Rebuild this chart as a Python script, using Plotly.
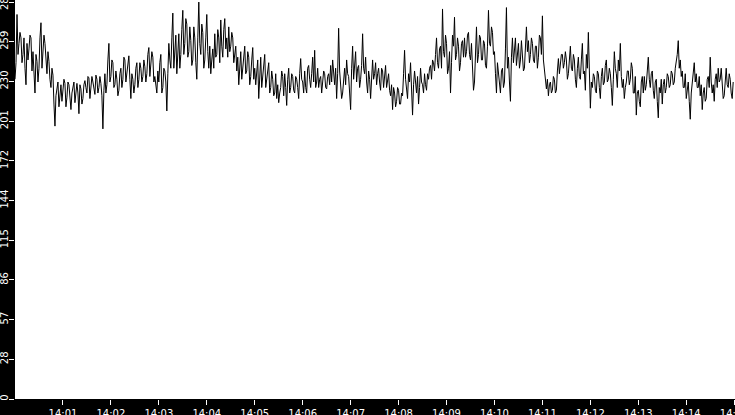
import pandas as pd
import plotly.graph_objects as go

# %%
# samples every 1.25 s from 14:00:00
seg1 = [232, 244, 279, 250, 258, 266, 262, 244, 250, 262, 240, 228, 258, 246, 254,
        264, 262, 238, 252, 236, 222, 250, 245, 230, 240, 262, 273, 240, 250, 264,
        258, 244, 236, 252, 245, 232, 226, 240, 235, 214, 198, 220, 225, 230, 212,
        222, 228, 216, 222, 232, 229, 212, 219, 230, 228, 220, 210, 222, 226, 230,
        215, 224, 229, 222, 207, 228, 225, 214, 218, 228, 231, 226, 222, 234, 233,
        218, 224, 234, 230, 226, 221, 235, 232, 222, 226, 234, 229, 220, 196, 224]
seg2 = [236, 222, 228, 246, 258, 230, 234, 246, 244, 226, 228, 238, 232, 220, 224,
        236, 240, 226, 232, 248, 246, 230, 236, 244, 249, 232, 218, 236, 232, 222,
        228, 240, 244, 226, 232, 244, 240, 230, 234, 246, 241, 230, 236, 250, 255,
        234, 242, 252, 248, 230, 234, 226, 222, 238, 230, 244, 250, 222, 226, 240,
        238, 230, 209, 236, 258, 246, 240, 262, 280, 240, 250, 264, 236, 252, 265,
        240, 250, 268, 282, 250, 258, 276, 272, 248, 252, 270, 260, 242, 246, 270]
seg3 = [262, 244, 232, 262, 288, 258, 250, 272, 266, 240, 246, 262, 279, 252, 240,
        256, 236, 246, 254, 240, 265, 248, 250, 268, 262, 244, 275, 256, 248, 268,
        276, 254, 262, 248, 270, 252, 256, 266, 262, 244, 250, 256, 238, 248, 228,
        240, 252, 232, 240, 250, 256, 236, 238, 252, 248, 228, 234, 246, 255, 232,
        240, 228, 236, 246, 218, 238, 248, 226, 236, 244, 250, 226, 232, 240, 244,
        222, 226, 238, 232, 220, 222, 236, 218, 228, 215, 222, 226, 238, 234, 220]
seg4 = [236, 226, 213, 232, 240, 222, 226, 236, 234, 224, 222, 234, 232, 226, 218,
        236, 247, 232, 230, 222, 238, 226, 222, 240, 242, 232, 226, 236, 248, 230,
        253, 226, 230, 240, 226, 232, 234, 222, 228, 238, 236, 226, 225, 234, 236,
        228, 242, 230, 246, 236, 228, 240, 218, 236, 269, 238, 230, 218, 222, 234,
        240, 228, 246, 236, 234, 222, 210, 240, 256, 232, 244, 252, 230, 240, 242,
        226, 232, 242, 265, 240, 236, 248, 230, 222, 238, 232, 218, 236, 246, 232]
seg5 = [236, 244, 228, 236, 240, 230, 224, 240, 238, 226, 232, 242, 226, 232, 236,
        224, 220, 228, 210, 226, 222, 212, 216, 226, 224, 214, 214, 222, 220, 236,
        253, 232, 226, 218, 236, 230, 244, 226, 206, 228, 238, 230, 222, 234, 214,
        226, 240, 230, 228, 222, 236, 228, 224, 236, 232, 240, 242, 232, 246, 244,
        238, 250, 262, 244, 240, 254, 256, 240, 283, 252, 248, 264, 258, 236, 240,
        252, 222, 244, 264, 256, 277, 246, 250, 262, 256, 238, 244, 258, 260, 248]
seg6 = [262, 248, 252, 264, 266, 250, 246, 258, 240, 224, 230, 250, 270, 244, 250,
        264, 262, 246, 246, 260, 258, 242, 240, 256, 282, 258, 256, 270, 266, 250,
        252, 236, 222, 244, 236, 226, 222, 238, 240, 226, 230, 254, 284, 240, 248,
        230, 216, 248, 262, 244, 254, 262, 242, 252, 258, 240, 246, 260, 252, 238,
        240, 256, 270, 252, 260, 244, 250, 262, 258, 246, 244, 256, 256, 240, 248,
        264, 262, 250, 278, 246, 238, 232, 225, 232, 220, 228, 230, 222, 224, 234]
seg7 = [232, 222, 224, 238, 247, 236, 242, 250, 250, 240, 244, 252, 246, 232, 236,
        248, 256, 240, 238, 250, 246, 232, 226, 240, 248, 234, 232, 246, 258, 236,
        238, 224, 250, 240, 266, 238, 211, 230, 226, 236, 234, 224, 222, 238, 236,
        226, 218, 234, 240, 228, 230, 242, 246, 230, 232, 240, 236, 226, 213, 232,
        252, 240, 236, 226, 246, 238, 258, 234, 226, 232, 218, 226, 230, 238, 238,
        228, 232, 244, 240, 222, 222, 234, 206, 222, 224, 216, 212, 230, 234, 222]
seg8 = [234, 224, 228, 238, 248, 232, 226, 236, 238, 224, 218, 230, 232, 216, 204,
        226, 222, 232, 214, 228, 232, 222, 226, 236, 234, 226, 228, 238, 236, 228,
        230, 240, 244, 250, 260, 240, 246, 234, 238, 226, 226, 236, 218, 226, 230,
        216, 203, 222, 230, 236, 244, 230, 236, 226, 226, 234, 220, 228, 210, 222,
        226, 216, 218, 232, 234, 226, 248, 230, 222, 228, 216, 232, 236, 226, 240,
        230, 232, 240, 226, 218, 220, 234, 240, 228, 226, 236, 232, 222, 218, 230]

values = seg1 + seg2 + seg3 + seg4 + seg5 + seg6 + seg7 + seg8
times = pd.date_range("2024-01-01 14:00:00", periods=len(values), freq="1250ms")

y_ticktext = ["0", "28", "57", "86", "115", "144", "172", "201", "230", "259", "288"]
y_tickvals = [i * 28.8 for i in range(len(y_ticktext))]
x_tickvals = pd.date_range("2024-01-01 14:01", "2024-01-01 14:15", freq="1min")

# %%
fig = go.Figure(go.Scatter(
    x=times, y=values,
    mode="lines",
    line=dict(color="black", width=1),
    hoverinfo="skip",
))

fig.update_layout(
    template="none",
    width=735, height=415,
    margin=dict(l=15, r=0, t=0, b=16, pad=0),
    paper_bgcolor="black",
    plot_bgcolor="white",
    showlegend=False,
    font=dict(family="DejaVu Sans", size=10, color="white"),
)
fig.update_xaxes(
    range=["2024-01-01 14:00:00", "2024-01-01 14:15:01"],
    tickvals=x_tickvals, tickformat="%H:%M",
    ticks="outside", ticklen=5, tickcolor="white", tickwidth=1,
    ticklabeloverflow="allow",
    showgrid=False, zeroline=False, showline=False, automargin=False,
)
fig.update_yaxes(
    range=[0, 289.5],
    tickvals=y_tickvals, ticktext=y_ticktext, tickangle=-90,
    ticks="outside", ticklen=5, tickcolor="white", tickwidth=1,
    ticklabelstandoff=-3, ticklabeloverflow="allow",
    showgrid=False, zeroline=False, showline=False, automargin=False,
)

# the page's default body margin would shift the figure by 8 px
fig.write_html("out.html", config={"displayModeBar": False},
               post_script="document.body.style.margin='0';"
                           "document.body.style.background='black';")
